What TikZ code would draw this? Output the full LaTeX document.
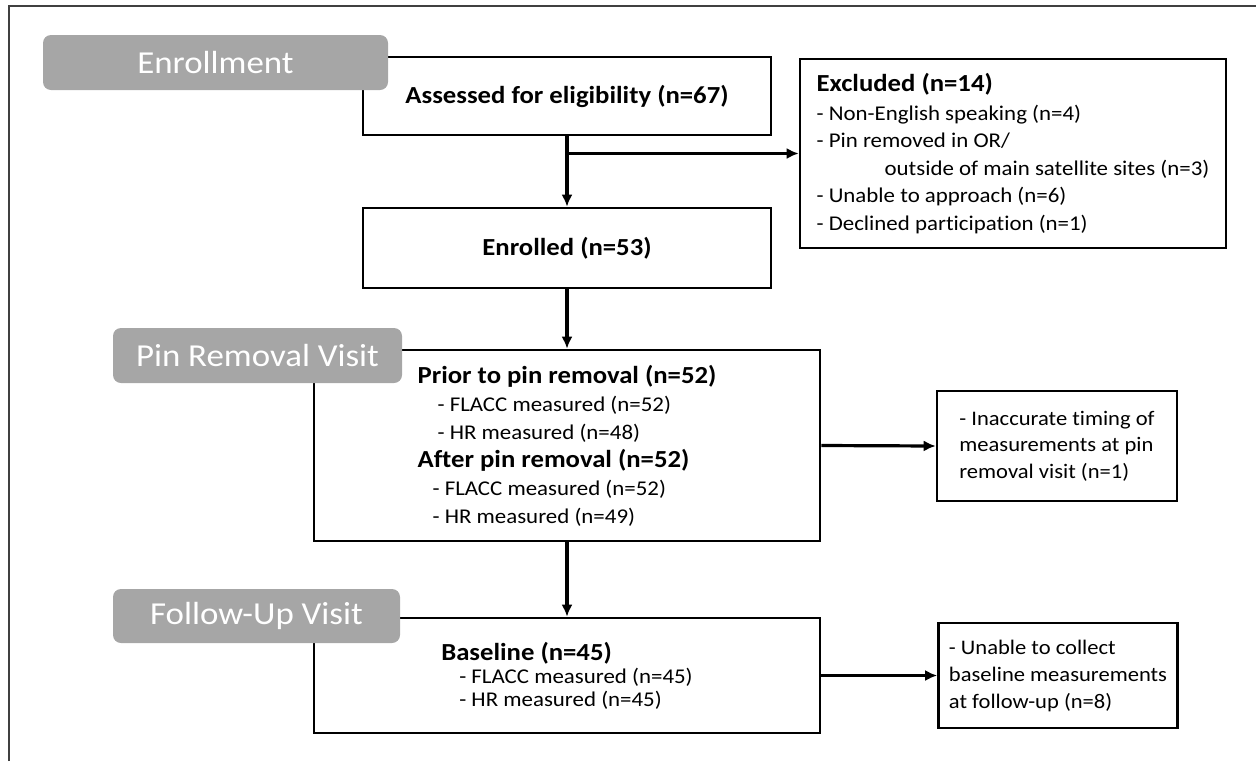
\documentclass[tikz,border=0pt]{standalone}
\usepackage{fontspec}
\setmainfont{Carlito}[FakeStretch=1.09, Ligatures=NoCommon]
\usetikzlibrary{arrows.meta}
\definecolor{labelGrey}{HTML}{A6A6A6}
\definecolor{frameGrey}{HTML}{404040}

\newcommand{\head}[1]{{\bfseries\fontsize{24.5}{27.5}\selectfont #1}}

\begin{document}
\begin{tikzpicture} [
    x=1pt, y=-1pt,
    box/.style={draw, line width=2.6pt, align=left, inner sep=0pt, font=\fontsize{21}{27.4}\selectfont},
    stage/.style={rounded corners=8pt, fill=labelGrey, text=white, inner sep=0pt, font=\fontsize{32}{36}\selectfont},
    arrow/.style={line width=3.2pt, -{Latex[length=12pt, width=11pt]}}
]
    \useasboundingbox (0,0) rectangle (1256,761);
    \draw[frameGrey, line width=1.7pt] (9,761) -- (9,6) -- (1256,6);

    % 1
    \node[box, minimum width=408pt, minimum height=78pt] (assess) at (567, 96) {\head{Assessed for eligibility (n=67)}};
    \node[box, minimum width=426pt, minimum height=189pt] (excl) at (1013, 153.5) {\head{Excluded (n=14)}\\[1.5pt]
        - Non-English speaking (n=4)\\
        - Pin removed in OR/\\
        \hspace*{68pt}outside of main satellite sites (n=3)\\
        - Unable to approach (n=6)\\
        - Declined participation (n=1)};
    \node[box, minimum width=408pt, minimum height=80pt] (enrol) at (567, 248) {\head{Enrolled (n=53)}};

    \coordinate (branch) at (assess.south |- excl.west);
    \draw [arrow] (assess.south) -- (enrol.north);
    \draw [arrow] (branch) -- (excl.west);

    \node[stage, minimum width=345pt, minimum height=55pt] (enrolStage) at (215.5, 62.5) {Enrollment};

    % 2
    \node[box, minimum width=506pt, minimum height=191pt, font=\fontsize{21}{28}\selectfont] (pin) at (567, 445.5) {\head{Prior to pin removal (n=52)}\\
        \hspace*{20pt}- FLACC measured (n=52)\\
        \hspace*{20pt}- HR measured (n=48)\\
        \head{After pin removal (n=52)}\\
        \hspace*{15pt}- FLACC measured (n=52)\\
        \hspace*{15pt}- HR measured (n=49)};
    \node[box, minimum width=240pt, minimum height=110pt, font=\fontsize{20.7}{26.5}\selectfont] (inacc) at (1057, 446) {- Inaccurate timing of\\
        measurements at pin\\
        removal visit (n=1)};

    \draw [arrow] (enrol.south) -- (pin.north);
    \draw [arrow] (pin.east) -- (inacc.west);

    \node[stage, minimum width=289pt, minimum height=55pt] (pinStage) at (257.5, 355.5) {Pin Removal Visit};

    % 3
    \node[box, minimum width=506pt, minimum height=115pt, font=\fontsize{21}{23}\selectfont] (base) at (567, 675.5) {\head{Baseline (n=45)}\\
        \hspace*{18pt}- FLACC measured (n=45)\\
        \hspace*{18pt}- HR measured (n=45)};
    \node[box, minimum width=239pt, minimum height=105pt, font=\fontsize{20.7}{27}\selectfont] (unable) at (1058, 675.5) {- Unable to collect\\
        baseline measurements\\
        at follow-up (n=8)};

    \draw [arrow] (pin.south) -- (base.north);
    \draw [arrow] (base.east) -- (unable.west);

    \node[stage, minimum width=287pt, minimum height=54pt] (followStage) at (256.5, 616) {Follow-Up Visit};
\end{tikzpicture}
\end{document}
